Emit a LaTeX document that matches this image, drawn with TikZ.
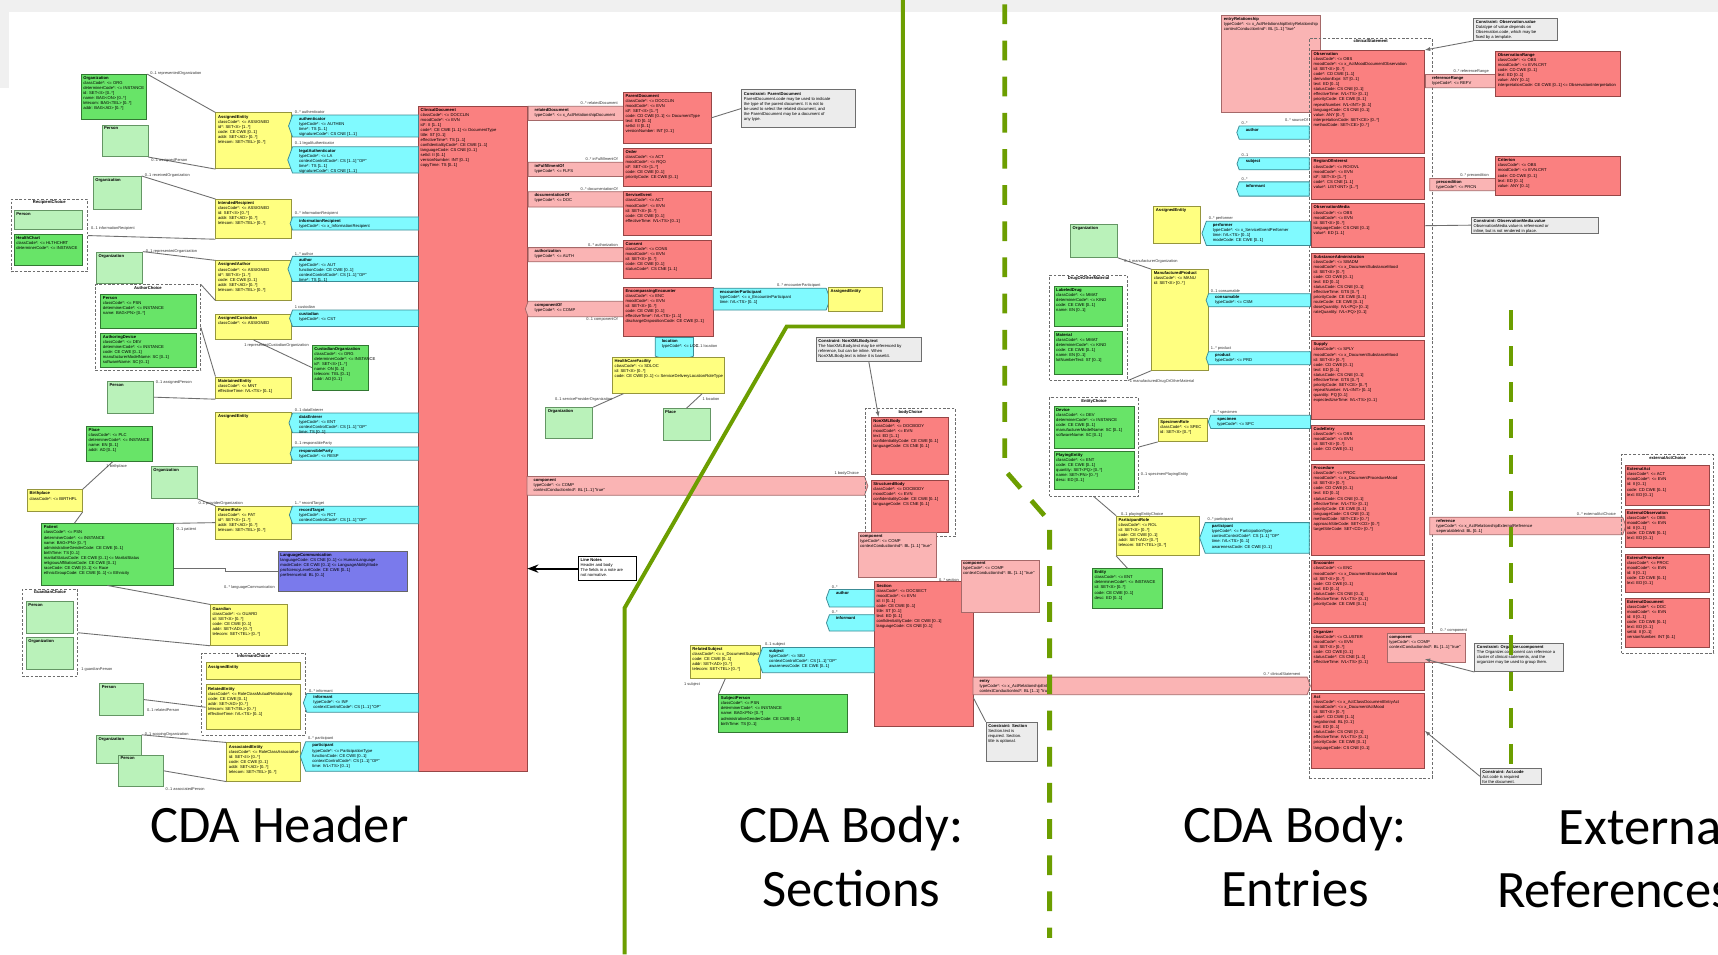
\documentclass[tikz,border=0pt]{standalone}
\usepackage{fontspec}
\setmainfont{Carlito}
\newfontfamily\umlfont{Liberation Sans}
\usetikzlibrary{positioning, fit, calc, shapes.symbols, arrows.meta}
\definecolor{cdagreen}{RGB}{108,158,0}
\definecolor{actred}{RGB}{250,128,128}
\definecolor{actredline}{RGB}{150,70,70}
\definecolor{actpink}{RGB}{250,180,180}
\definecolor{actpinkline}{RGB}{165,105,105}
\definecolor{roleyel}{RGB}{255,255,128}
\definecolor{roleyelline}{RGB}{150,150,60}
\definecolor{partcyan}{RGB}{128,250,255}
\definecolor{partcyanline}{RGB}{60,140,150}
\definecolor{entdark}{RGB}{104,228,104}
\definecolor{entdarkline}{RGB}{50,120,50}
\definecolor{entlight}{RGB}{186,242,186}
\definecolor{entlightline}{RGB}{100,150,100}
\definecolor{langblue}{RGB}{122,122,236}
\definecolor{notegray}{RGB}{236,236,236}
\definecolor{edgegray}{RGB}{110,110,110}
\definecolor{bggray}{RGB}{240,240,240}
\tikzset{
  cls/.style={rectangle, line width=0.35pt, inner sep=0pt},
  redcls/.style={cls, fill=actred, draw=actredline},
  pinkcls/.style={cls, fill=actpink, draw=actpinkline},
  yelcls/.style={cls, fill=roleyel, draw=roleyelline},
  dkgrn/.style={cls, fill=entdark, draw=entdarkline},
  ltgrn/.style={cls, fill=entlight, draw=entlightline},
  purpcls/.style={cls, fill=langblue, draw=black!60},
  notecls/.style={cls, fill=notegray, draw=edgegray},
  blacknote/.style={cls, fill=white, draw=black, line width=0.7pt},
  choicegrp/.style={rectangle, draw=edgegray, dash pattern=on 1.2pt off 0.8pt, line width=0.35pt, inner sep=0pt},
  sig/.style={signal, signal pointer angle=140, line width=0.35pt, inner sep=0pt},
  partw/.style={sig, signal to=west, fill=partcyan, draw=partcyanline},
  parte/.style={sig, signal to=east, fill=partcyan, draw=partcyanline},
  parts/.style={sig, signal to=south, fill=partcyan, draw=partcyanline},
  actr/.style={sig, signal to=east, fill=actpink, draw=actpinkline},
  actl/.style={sig, signal to=west, fill=actpink, draw=actpinkline},
  clstext/.style={anchor=north west, inner sep=0.8pt, align=left, font=\umlfont\fontsize{1.9}{2.3}\selectfont},
  grptitle/.style={anchor=north, inner sep=0.6pt, font=\umlfont\bfseries\fontsize{1.9}{2.2}\selectfont},
  linklab/.style={inner sep=0.4pt, font=\umlfont\fontsize{1.8}{2}\selectfont, text=black!80},
  assoc/.style={draw=edgegray, line width=0.4pt},
  cdaline/.style={draw=cdagreen, line width=1.8pt},
  cdadash/.style={draw=cdagreen, line width=2.2pt, dash pattern=on 9pt off 7.5pt},
  region/.style={anchor=base, inner sep=0pt, font=\fontsize{24}{29}\selectfont}
}
% class box: name, style, x0, y0, x1, y1, title, attributes
\newcommand\cdabox[8]{%
  \node[#2, fit={(#3,#4) (#5,#6)}] (#1) {};
  \node[clstext] (#1txt) at (#3,#4) {\textbf{#7}\\#8};
}
% participation / act relationship shape, text kept off the pointer
\newcommand\cdarel[8]{%
  \node[#2, fit={(#3,#4) (#5,#6)}] (#1) {};
  \node[clstext] (#1txt) at (#3+4,#4) {\textbf{#7}\\#8};
}
% choice box with dashed border
\newcommand\cdagroup[6]{%
  \node[choicegrp, fit={(#2,#3) (#4,#5)}] (#1) {};
  \node[grptitle] (#1txt) at (#1.north) {#6};
}
\newcommand\cdalab[5][south west]{\node[linklab, anchor=#1] (#2) at (#3,#4) {#5};}

\begin{document}
\begin{tikzpicture}[x=0.5pt, y=-0.5pt]
\useasboundingbox (0,0) rectangle (1568,871);
\fill[white] (0,0) rectangle (1568,871);
\fill[bggray] (0,0) rectangle (1568,11);
\fill[bggray] (0,11) rectangle (8,80);

% ---------------- CDA header ----------------
\cdabox{clindoc}{redcls}{382}{97}{481}{704}{ClinicalDocument}{classCode*: <= DOCCLIN\\moodCode*: <= EVN\\id*: II [1..1]\\code*: CE CWE [1..1] <= DocumentType\\title: ST [0..1]\\effectiveTime*: TS [1..1]\\confidentialityCode*: CE CWE [1..1]\\languageCode: CS CNE [0..1]\\setId: II [0..1]\\versionNumber: INT [0..1]\\copyTime: TS [0..1]}

\cdabox{hdrorg}{dkgrn}{74}{68}{134}{109}{Organization}{classCode*: <= ORG\\determinerCode*: <= INSTANCE\\id: SET<II> [0..*]\\name: BAG<ON> [0..*]\\telecom: BAG<TEL> [0..*]\\addr: BAG<AD> [0..*]}
\cdabox{hdrper}{ltgrn}{93}{114}{135}{143}{Person}{}
\cdabox{asgent}{yelcls}{197}{103}{266}{154}{AssignedEntity}{classCode*: <= ASSIGNED\\id*: SET<II> [1..*]\\code: CE CWE [0..1]\\addr: SET<AD> [0..*]\\telecom: SET<TEL> [0..*]}
\cdarel{authen}{partw}{267}{105}{382}{125}{authenticator}{typeCode*: <= AUTHEN\\time*: TS [1..1]\\signatureCode*: CS CNE [1..1]}
\cdarel{legauth}{partw}{267}{134}{382}{158}{legalAuthenticator}{typeCode*: <= LA\\contextControlCode*: CS [1..1] "OP"\\time*: TS [1..1]\\signatureCode*: CS CNE [1..1]}

\cdabox{rcporg}{ltgrn}{85}{161}{129}{191}{Organization}{}
\cdagroup{rcpchoice}{10}{182}{80}{248}{RecipientChoice}
\cdabox{rcpper}{ltgrn}{13}{192}{75}{209}{Person}{}
\cdabox{hlthchart}{dkgrn}{13}{214}{75}{242}{HealthChart}{classCode*: <= HLTHCHRT\\determinerCode*: <= INSTANCE}
\cdabox{intrcp}{yelcls}{197}{182}{266}{218}{IntendedRecipient}{classCode*: <= ASSIGNED\\id: SET<II> [0..*]\\addr: SET<AD> [0..*]\\telecom: SET<TEL> [0..*]}
\cdarel{infrcp}{partw}{267}{198}{382}{210}{informationRecipient}{typeCode*: <= x\_InformationRecipient}

\cdabox{autorg}{ltgrn}{88}{230}{130}{259}{Organization}{}
\cdabox{asgaut}{yelcls}{197}{238}{266}{274}{AssignedAuthor}{classCode*: <= ASSIGNED\\id*: SET<II> [1..*]\\code: CE CWE [0..1]\\addr: SET<AD> [0..*]\\telecom: SET<TEL> [0..*]}
\cdarel{author}{partw}{267}{234}{382}{257}{author}{typeCode*: <= AUT\\functionCode: CE CWE [0..1]\\contextControlCode*: CS [1..1] "OP"\\time*: TS [1..1]}
\cdagroup{autchoice}{87}{260}{183}{338}{AuthorChoice}
\cdabox{autper}{dkgrn}{92}{269}{179}{300}{Person}{classCode*: <= PSN\\determinerCode*: <= INSTANCE\\name: BAG<PN> [0..*]}
\cdabox{autdev}{dkgrn}{92}{304}{179}{335}{AuthoringDevice}{classCode*: <= DEV\\determinerCode*: <= INSTANCE\\code: CE CWE [0..1]\\manufacturerModelName: SC [0..1]\\softwareName: SC [0..1]}

\cdabox{asgcus}{yelcls}{197}{287}{266}{310}{AssignedCustodian}{classCode*: <= ASSIGNED}
\cdarel{custod}{partw}{267}{283}{382}{298}{custodian}{typeCode*: <= CST}
\cdabox{cusorg}{dkgrn}{285}{315}{336}{356}{CustodianOrganization}{classCode*: <= ORG\\determinerCode*: <= INSTANCE\\id*: SET<II> [1..*]\\name: ON [0..1]\\telecom: TEL [0..1]\\addr: AD [0..1]}
\cdabox{mntper}{ltgrn}{98}{348}{140}{377}{Person}{}
\cdabox{mntent}{yelcls}{197}{344}{266}{364}{MaintainedEntity}{classCode*: <= MNT\\effectiveTime: IVL<TS> [0..1]}
\cdabox{dataent}{yelcls}{197}{376}{266}{423}{AssignedEntity}{}
\cdarel{dataenterer}{partw}{267}{377}{382}{395}{dataEnterer}{typeCode*: <= ENT\\contextControlCode*: CS [1..1] "OP"\\time: TS [0..1]}
\cdarel{respparty}{partw}{267}{408}{382}{420}{responsibleParty}{typeCode*: <= RESP}

\cdabox{place}{dkgrn}{79}{389}{139}{421}{Place}{classCode*: <= PLC\\determinerCode*: <= INSTANCE\\name: EN [0..1]\\addr: AD [0..1]}
\cdabox{ptorg}{ltgrn}{138}{426}{180}{455}{Organization}{}
\cdabox{birthpl}{yelcls}{25}{447}{75}{467}{Birthplace}{classCode*: <= BIRTHPL}
\cdabox{patient}{dkgrn}{38}{478}{158}{534}{Patient}{classCode*: <= PSN\\determinerCode*: <= INSTANCE\\name: BAG<PN> [0..*]\\administrativeGenderCode: CE CWE [0..1]\\birthTime: TS [0..1]\\maritalStatusCode: CE CWE [0..1] <= MaritalStatus\\religiousAffiliationCode: CE CWE [0..1]\\raceCode: CE CWE [0..1] <= Race\\ethnicGroupCode: CE CWE [0..1] <= Ethnicity}
\cdabox{ptrole}{yelcls}{197}{462}{266}{492}{PatientRole}{classCode*: <= PAT\\id*: SET<II> [1..*]\\addr: SET<AD> [0..*]\\telecom: SET<TEL> [0..*]}
\cdarel{rectgt}{partw}{267}{462}{382}{478}{recordTarget}{typeCode*: <= RCT\\contextControlCode*: CS [1..1] "OP"}
\cdabox{langcom}{purpcls}{254}{503}{372}{540}{LanguageCommunication}{languageCode: CS CNE [0..1] <= HumanLanguage\\modeCode: CE CWE [0..1] <= LanguageAbilityMode\\proficiencyLevelCode: CE CWE [0..1]\\preferenceInd: BL [0..1]}
\cdagroup{grdchoice}{20}{538}{71}{617}{GuardianChoice}
\cdabox{grdper}{ltgrn}{24}{549}{67}{578}{Person}{}
\cdabox{grdorg}{ltgrn}{24}{582}{67}{611}{Organization}{}
\cdabox{guardian}{yelcls}{192}{552}{262}{589}{Guardian}{classCode*: <= GUARD\\id: SET<II> [0..*]\\code: CE CWE [0..1]\\addr: SET<AD> [0..*]\\telecom: SET<TEL> [0..*]}

\cdagroup{infchoice}{184}{596}{279}{671}{InformantChoice}
\cdabox{infent}{yelcls}{188}{605}{274}{620}{AssignedEntity}{}
\cdabox{relent}{yelcls}{188}{625}{274}{666}{RelatedEntity}{classCode*: <= RoleClassMutualRelationship\\code: CE CWE [0..1]\\addr: SET<AD> [0..*]\\telecom: SET<TEL> [0..*]\\effectiveTime: IVL<TS> [0..1]}
\cdabox{relper}{ltgrn}{91}{624}{131}{653}{Person}{}
\cdarel{informant}{partw}{280}{633}{382}{650}{informant}{typeCode*: <= INF\\contextControlCode*: CS [1..1] "OP"}
\cdabox{ascorg}{ltgrn}{88}{671}{129}{697}{Organization}{}
\cdabox{ascper}{ltgrn}{108}{689}{149}{718}{Person}{}
\cdabox{ascent}{yelcls}{207}{678}{274}{713}{AssociatedEntity}{classCode*: <= RoleClassAssociative\\id: SET<II> [0..*]\\code: CE CWE [0..1]\\addr: SET<AD> [0..*]\\telecom: SET<TEL> [0..*]}
\cdarel{particip}{partw}{279}{677}{382}{704}{participant}{typeCode*: <= ParticipationType\\functionCode: CE CWE [0..1]\\contextControlCode*: CS [1..1] "OP"\\time: IVL<TS> [0..1]}

% act relationships to the right of ClinicalDocument
\cdarel{reldoc}{actr}{482}{97}{569}{110}{relatedDocument}{typeCode*: <= x\_ActRelationshipDocument}
\cdabox{pardoc}{redcls}{569}{84}{649}{131}{ParentDocument}{classCode*: <= DOCCLIN\\moodCode*: <= EVN\\id*: SET<II> [1..*]\\code: CD CWE [0..1] <= DocumentType\\text: ED [0..1]\\setId: II [0..1]\\versionNumber: INT [0..1]}
\cdarel{inful}{actr}{482}{148}{569}{161}{inFulfillmentOf}{typeCode*: <= FLFS}
\cdabox{order}{redcls}{569}{135}{649}{170}{Order}{classCode*: <= ACT\\moodCode*: <= RQO\\id*: SET<II> [1..*]\\code: CE CWE [0..1]\\priorityCode: CE CWE [0..1]}
\cdarel{docof}{actr}{482}{175}{569}{189}{documentationOf}{typeCode*: <= DOC}
\cdabox{srvevt}{redcls}{569}{175}{649}{215}{ServiceEvent}{classCode*: <= ACT\\moodCode*: <= EVN\\id: SET<II> [0..*]\\code: CE CWE [0..1]\\effectiveTime: IVL<TS> [0..1]}
\cdarel{authzn}{actr}{482}{226}{569}{239}{authorization}{typeCode*: <= AUTH}
\cdabox{consent}{redcls}{569}{219}{649}{254}{Consent}{classCode*: <= CONS\\moodCode*: <= EVN\\id: SET<II> [0..*]\\code: CE CWE [0..1]\\statusCode*: CS CNE [1..1]}
\cdarel{compof}{actl}{482}{275}{569}{289}{componentOf}{typeCode*: <= COMP}
\cdabox{encenc}{redcls}{569}{262}{651}{307}{EncompassingEncounter}{classCode*: <= ENC\\moodCode*: <= EVN\\id: SET<II> [0..*]\\code: CE CWE [0..1]\\effectiveTime*: IVL<TS> [1..1]\\dischargeDispositionCode: CE CWE [0..1]}
\cdarel{encpart}{parte}{651}{263}{754}{283}{encounterParticipant}{typeCode*: <= x\_EncounterParticipant\\time: IVL<TS> [0..1]}
\cdabox{encasg}{yelcls}{756}{262}{805}{284}{AssignedEntity}{}
\cdarel{location}{parts}{598}{308}{633}{325}{location}{typeCode*: <= LOC}
\cdabox{hcf}{yelcls}{559}{326}{661}{359}{HealthCareFacility}{classCode*: <= SDLOC\\id: SET<II> [0..*]\\code: CE CWE [0..1] <= ServiceDeliveryLocationRoleType}
\cdabox{locorg}{ltgrn}{498}{372}{541}{400}{Organization}{}
\cdabox{locplace}{ltgrn}{605}{373}{648}{402}{Place}{}
\cdabox{pardocnote}{notecls}{677}{82}{781}{116}{Constraint: ParentDocument}{ParentDocument.code may be used to indicate\\the type of the parent document. It is not to\\be used to select the related document, and\\the ParentDocument may be a document of\\any type.}

% ---------------- CDA body: sections ----------------
\cdarel{bodycomp}{actr}{481}{435}{789}{452}{component}{typeCode*: <= COMP\\contextConductionInd*: BL [1..1] "true"}
\cdabox{linenote}{blacknote}{528}{508}{581}{530}{Line Notes}{Header and body\\The fields in a note are\\not normative.}
\cdabox{bodynote}{notecls}{745}{308}{841}{330}{Constraint: NonXMLBody.text}{The NonXMLBody.text may be referenced by\\reference, but can be inline. When\\NonXMLBody.text is inline it is base64.}
\cdagroup{bodychoice}{790}{373}{872}{490}{bodyChoice}
\cdabox{nonxml}{redcls}{795}{381}{866}{433}{NonXMLBody}{classCode*: <= DOCBODY\\moodCode*: <= EVN\\text: ED [1..1]\\confidentialityCode: CE CWE [0..1]\\languageCode: CS CNE [0..1]}
\cdabox{strbody}{redcls}{795}{438}{866}{486}{StructuredBody}{classCode*: <= DOCBODY\\moodCode*: <= EVN\\confidentialityCode: CE CWE [0..1]\\languageCode: CS CNE [0..1]}
\cdabox{seccomp}{pinkcls}{783}{486}{855}{527}{component}{typeCode*: <= COMP\\contextConductionInd*: BL [1..1] "true"}
\cdabox{section}{redcls}{798}{531}{888}{663}{Section}{classCode*: <= DOCSECT\\moodCode*: <= EVN\\id: II [0..1]\\code: CE CWE [0..1]\\title: ST [0..1]\\text: ED [0..1]\\confidentialityCode: CE CWE [0..1]\\languageCode: CS CNE [0..1]}
\cdabox{subcomp}{pinkcls}{877}{511}{949}{559}{component}{typeCode*: <= COMP\\contextConductionInd*: BL [1..1] "true"}
\cdarel{secauth}{partw}{757}{538}{798}{554}{author}{}
\cdarel{secinf}{partw}{757}{561}{798}{576}{informant}{}
\cdabox{relsub}{yelcls}{630}{589}{694}{619}{RelatedSubject}{classCode*: <= x\_DocumentSubject\\code: CE CWE [0..1]\\addr: SET<AD> [0..*]\\telecom: SET<TEL> [0..*]}
\cdarel{subject}{partw}{696}{591}{798}{614}{subject}{typeCode*: <= SBJ\\contextControlCode*: CS [1..1] "OP"\\awarenessCode: CE CWE [0..1]}
\cdabox{subper}{dkgrn}{656}{634}{773}{668}{SubjectPerson}{classCode*: <= PSN\\determinerCode*: <= INSTANCE\\name: BAG<PN> [0..*]\\administrativeGenderCode: CE CWE [0..1]\\birthTime: TS [0..1]}
\cdabox{secnote}{notecls}{900}{659}{947}{695}{Constraint: Section}{Section.text is\\required. Section.\\title is optional.}
\cdarel{entry}{actr}{888}{618}{1193}{634}{entry}{typeCode*: <= x\_ActRelationshipEntry\\contextConductionInd*: BL [1..1] "true"}

% ---------------- CDA body: entries ----------------
\cdabox{entrel}{pinkcls}{1115}{14}{1205}{103}{entryRelationship}{typeCode*: <= x\_ActRelationshipEntryRelationship\\contextConductionInd*: BL [1..1] "true"}
\cdagroup{clinstmt}{1195}{35}{1307}{710}{clinicalStatement}
\cdabox{obs}{redcls}{1197}{46}{1300}{140}{Observation}{classCode*: <= OBS\\moodCode*: <= x\_ActMoodDocumentObservation\\id: SET<II> [0..*]\\code*: CD CWE [1..1]\\derivationExpr: ST [0..1]\\text: ED [0..1]\\statusCode: CS CNE [0..1]\\effectiveTime: IVL<TS> [0..1]\\priorityCode: CE CWE [0..1]\\repeatNumber: IVL<INT> [0..1]\\languageCode: CS CNE [0..1]\\value: ANY [0..*]\\interpretationCode: SET<CE> [0..*]\\methodCode: SET<CE> [0..*]}
\cdabox{roi}{redcls}{1197}{144}{1300}{182}{RegionOfInterest}{classCode*: <= ROIOVL\\moodCode*: <= EVN\\id*: SET<II> [1..*]\\code*: CS CNE [1..1]\\value*: LIST<INT> [1..*]}
\cdabox{obsmed}{redcls}{1197}{186}{1300}{226}{ObservationMedia}{classCode*: <= OBS\\moodCode*: <= EVN\\id: SET<II> [0..*]\\languageCode: CS CNE [0..1]\\value*: ED [1..1]}
\cdabox{subadm}{redcls}{1197}{231}{1300}{307}{SubstanceAdministration}{classCode*: <= SBADM\\moodCode*: <= x\_DocumentSubstanceMood\\id: SET<II> [0..*]\\code: CD CWE [0..1]\\text: ED [0..1]\\statusCode: CS CNE [0..1]\\effectiveTime: GTS [0..*]\\priorityCode: CE CWE [0..1]\\routeCode: CE CWE [0..1]\\doseQuantity: IVL<PQ> [0..1]\\rateQuantity: IVL<PQ> [0..1]}
\cdabox{supply}{redcls}{1197}{311}{1300}{383}{Supply}{classCode*: <= SPLY\\moodCode*: <= x\_DocumentSubstanceMood\\id: SET<II> [0..*]\\code: CD CWE [0..1]\\text: ED [0..1]\\statusCode: CS CNE [0..1]\\effectiveTime: GTS [0..*]\\priorityCode: SET<CE> [0..*]\\repeatNumber: IVL<INT> [0..1]\\quantity: PQ [0..1]\\expectedUseTime: IVL<TS> [0..1]}
\cdabox{codeent}{redcls}{1197}{388}{1300}{420}{CodeEntry}{classCode*: <= OBS\\moodCode*: <= EVN\\id: SET<II> [0..*]\\code: CD CWE [0..1]}
\cdabox{proc}{redcls}{1197}{424}{1300}{507}{Procedure}{classCode*: <= PROC\\moodCode*: <= x\_DocumentProcedureMood\\id: SET<II> [0..*]\\code: CD CWE [0..1]\\text: ED [0..1]\\statusCode: CS CNE [0..1]\\effectiveTime: IVL<TS> [0..1]\\priorityCode: CE CWE [0..1]\\languageCode: CS CNE [0..1]\\methodCode: SET<CE> [0..*]\\approachSiteCode: SET<CD> [0..*]\\targetSiteCode: SET<CD> [0..*]}
\cdabox{encntr}{redcls}{1197}{511}{1300}{569}{Encounter}{classCode*: <= ENC\\moodCode*: <= x\_DocumentEncounterMood\\id: SET<II> [0..*]\\code: CD CWE [0..1]\\text: ED [0..1]\\statusCode: CS CNE [0..1]\\effectiveTime: IVL<TS> [0..1]\\priorityCode: CE CWE [0..1]}
\cdabox{organizer}{redcls}{1197}{573}{1300}{630}{Organizer}{classCode*: <= CLUSTER\\moodCode*: <= EVN\\id: SET<II> [0..*]\\code: CD CWE [0..1]\\statusCode*: CS CNE [1..1]\\effectiveTime: IVL<TS> [0..1]}
\cdabox{act}{redcls}{1197}{633}{1300}{701}{Act}{classCode*: <= x\_ActClassDocumentEntryAct\\moodCode*: <= x\_DocumentActMood\\id: SET<II> [0..*]\\code*: CD CWE [1..1]\\negationInd: BL [0..1]\\text: ED [0..1]\\statusCode: CS CNE [0..1]\\effectiveTime: IVL<TS> [0..1]\\priorityCode: CE CWE [0..1]\\languageCode: CS CNE [0..1]}
\cdabox{orgcomp}{pinkcls}{1266}{578}{1337}{605}{component}{typeCode*: <= COMP\\contextConductionInd*: BL [1..1] "true"}

\cdarel{refrange}{actr}{1301}{68}{1365}{80}{referenceRange}{typeCode*: <= REFV}
\cdabox{obsrange}{redcls}{1365}{47}{1479}{88}{ObservationRange}{classCode*: <= OBS\\moodCode*: <= EVN.CRT\\code: CD CWE [0..1]\\text: ED [0..1]\\value: ANY [0..1]\\interpretationCode: CE CWE [0..1] <= ObservationInterpretation}
\cdarel{precond}{actr}{1305}{163}{1365}{174}{precondition}{typeCode*: <= PRCN}
\cdabox{criterion}{redcls}{1365}{143}{1479}{178}{Criterion}{classCode*: <= OBS\\moodCode*: <= EVN.CRT\\code: CD CWE [0..1]\\text: ED [0..1]\\value: ANY [0..1]}
\cdabox{obsnote}{notecls}{1345}{17}{1421}{37}{Constraint: Observation.value}{Datatype of value depends on\\Observation.code, which may be\\fixed by a template.}
\cdabox{mednote}{notecls}{1343}{198}{1459}{213}{Constraint: ObservationMedia.value}{ObservationMedia.value is referenced or\\inline, but is not rendered in place.}

\cdarel{entauth}{partw}{1131}{115}{1195}{127}{author}{}
\cdarel{entsubj}{partw}{1131}{144}{1195}{155}{subject}{}
\cdarel{entinf}{partw}{1131}{166}{1195}{179}{informant}{}
\cdabox{perfasg}{yelcls}{1053}{188}{1096}{222}{AssignedEntity}{}
\cdarel{performer}{partw}{1101}{202}{1196}{224}{performer}{typeCode*: <= x\_ServiceEventPerformer\\time: IVL<TS> [0..1]\\modeCode: CE CWE [0..1]}
\cdabox{entorg}{ltgrn}{977}{205}{1020}{235}{Organization}{}
\cdabox{mfgprod}{yelcls}{1051}{246}{1103}{338}{ManufacturedProduct}{classCode*: <= MANU\\id: SET<II> [0..*]}
\cdagroup{drugchoice}{958}{251}{1029}{347}{DrugOrOtherMaterial}
\cdabox{labdrug}{dkgrn}{962}{261}{1024}{298}{LabeledDrug}{classCode*: <= MMAT\\determinerCode*: <= KIND\\code: CE CWE [0..1]\\name: EN [0..1]}
\cdabox{material}{dkgrn}{962}{302}{1024}{342}{Material}{classCode*: <= MMAT\\determinerCode*: <= KIND\\code: CE CWE [0..1]\\name: EN [0..1]\\lotNumberText: ST [0..1]}
\cdarel{consum}{partw}{1103}{268}{1196}{280}{consumable}{typeCode*: <= CSM}
\cdarel{product}{partw}{1103}{321}{1196}{333}{product}{typeCode*: <= PRD}
\cdagroup{entchoice}{958}{363}{1039}{453}{EntityChoice}
\cdabox{device}{dkgrn}{962}{371}{1035}{409}{Device}{classCode*: <= DEV\\determinerCode*: <= INSTANCE\\code: CE CWE [0..1]\\manufacturerModelName: SC [0..1]\\softwareName: SC [0..1]}
\cdabox{playent}{dkgrn}{962}{412}{1035}{447}{PlayingEntity}{classCode*: <= ENT\\code: CE CWE [0..1]\\quantity: SET<PQ> [0..*]\\name: SET<PN> [0..*]\\desc: ED [0..1]}
\cdabox{specrole}{yelcls}{1057}{382}{1102}{403}{SpecimenRole}{classCode*: <= SPEC\\id: SET<II> [0..*]}
\cdarel{specimen}{partw}{1105}{379}{1196}{391}{specimen}{typeCode*: <= SPC}
\cdabox{partrole}{yelcls}{1019}{471}{1095}{507}{ParticipantRole}{classCode*: <= ROL\\id: SET<II> [0..*]\\code: CE CWE [0..1]\\addr: SET<AD> [0..*]\\telecom: SET<TEL> [0..*]}
\cdarel{entpart}{partw}{1100}{477}{1195}{505}{participant}{typeCode*: <= ParticipationType\\contextControlCode*: CS [1..1] "OP"\\time: IVL<TS> [0..1]\\awarenessCode: CE CWE [0..1]}
\cdabox{entity}{dkgrn}{997}{519}{1061}{555}{Entity}{classCode*: <= ENT\\determinerCode*: <= INSTANCE\\id: SET<II> [0..*]\\code: CE CWE [0..1]\\desc: ED [0..1]}
\cdabox{orgnote}{notecls}{1346}{587}{1427}{613}{Constraint: Organizer.component}{The Organizer.component can reference a\\cluster of clinical statements, and the\\organizer may be used to group them.}
\cdabox{actnote}{notecls}{1351}{701}{1407}{716}{Constraint: Act.code}{Act.code is required\\for the document.}

% ---------------- external references ----------------
\cdarel{reference}{actr}{1305}{472}{1481}{488}{reference}{typeCode*: <= x\_ActRelationshipExternalReference\\seperatableInd: BL [0..1]}
\cdagroup{extchoice}{1480}{415}{1564}{596}{externalActChoice}
\cdabox{extact}{redcls}{1483}{425}{1560}{461}{ExternalAct}{classCode*: <= ACT\\moodCode*: <= EVN\\id: II [0..1]\\code: CD CWE [0..1]\\text: ED [0..1]}
\cdabox{extobs}{redcls}{1483}{465}{1560}{500}{ExternalObservation}{classCode*: <= OBS\\moodCode*: <= EVN\\id: II [0..1]\\code: CD CWE [0..1]\\text: ED [0..1]}
\cdabox{extproc}{redcls}{1483}{506}{1560}{541}{ExternalProcedure}{classCode*: <= PROC\\moodCode*: <= EVN\\id: II [0..1]\\code: CD CWE [0..1]\\text: ED [0..1]}
\cdabox{extdoc}{redcls}{1483}{546}{1560}{591}{ExternalDocument}{classCode*: <= DOC\\moodCode*: <= EVN\\id: II [0..1]\\code: CD CWE [0..1]\\text: ED [0..1]\\setId: II [0..1]\\versionNumber: INT [0..1]}

% ---------------- associations ----------------
\draw[assoc] (hdrorg.north east) -- (asgent.north west);
\draw[assoc] (hdrper.south east) -- (asgent.south west);
\draw[assoc] (rcporg.north east) -- (intrcp.north west);
\draw[assoc] (rcpchoice.east) -- (intrcp.south west);
\draw[assoc] (autorg.north east) -- (asgaut.north west);
\draw[assoc] (autchoice.north east) -- (asgaut.south west);
\draw[assoc] (asgcus.south) -- (cusorg.west);
\draw[assoc] (autchoice.east) -- (mntent.north west);
\draw[assoc] (mntper.east) -- (mntent.south west);
\draw[assoc] ($(place.south west)!0.4!(place.south east)$) -- (birthpl.north east);
\draw[assoc] (birthpl.south east) -- ($(patient.north west)!0.5!(patient.north)$);
\draw[assoc] (ptorg.south east) -- (ptrole.north west);
\draw[assoc] (patient.north east) -- (ptrole.west);
\draw[assoc] ($(patient.east)+(0,13)$) -- ++(47,0) |- (langcom.west);
\draw[assoc] (patient.south) -- (guardian.north west);
\draw[assoc] (grdchoice.east) -- (guardian.south west);
\draw[assoc] (relper.east) -- (relent.west);
\draw[assoc] (ascorg.north east) -- (ascent.north west);
\draw[assoc] (ascper.east) -- (ascent.south west);
\draw[assoc] (pardoc.east) -- (pardocnote.west);
\draw[assoc] ($(hcf.south west)!0.1!(hcf.south east)$) -- (locorg.north east);
\draw[assoc] ($(hcf.south west)!0.8!(hcf.south east)$) -- (locplace.north);
\draw[assoc, -{Latex[length=2.5pt]}] (bodynote.south) -- ($(nonxml.north west)!0.1!(nonxml.north east)$);
\draw[line width=0.9pt, -{Stealth[length=5pt]}] (linenote.west) -- (linenote.west -| clindoc.east);
\draw[assoc] (relsub.south) -- (subper.north west);
\draw[assoc] ($(section.north east)!0.8!(section.south east)$) -- (secnote.north west);
\draw[assoc, -{Latex[length=2.5pt]}] (obsnote.south west) -- (obs.north east);
\draw[assoc] (mednote.west) -- (obsmed.east);
\draw[assoc, -{Latex[length=2.5pt]}] (orgnote.south west) -- (organizer.east);
\draw[assoc, -{Latex[length=2.5pt]}] (actnote.west) -- (act.east);
\draw[assoc] (entorg.south east) -- (mfgprod.north west);
\draw[assoc] (drugchoice.south east) -- (mfgprod.south west);
\draw[assoc] (entchoice.east) -- (specrole.south west);
\draw[assoc] (entchoice.south) -- (partrole.north west);
\draw[assoc] (partrole.south west) -- (entity.north);

% link labels
\cdalab{lbl1}{136}{70}{0..1 representedOrganization}
\cdalab[north west]{lbl2}{137}{144}{0..1 assignedPerson}
\cdalab{lbl3}{131}{163}{0..1 receivedOrganization}
\cdalab[north west]{lbl4}{82}{206}{0..1 informationRecipient}
\cdalab{lbl5}{132}{232}{0..1 representedOrganization}
\cdalab[north east]{lbl6}{283}{312}{1 representedCustodianOrganization}
\cdalab{lbl7}{141}{352}{0..1 assignedPerson}
\cdalab[north west]{lbl8}{96}{423}{1 birthplace}
\cdalab[north west]{lbl9}{180}{457}{0..1 providerOrganization}
\cdalab[north west]{lbl10}{160}{480}{0..1 patient}
\cdalab[north east]{lbl11}{252}{533}{0..* languageCommunication}
\cdalab[north west]{lbl12}{73}{608}{1 guardianPerson}
\cdalab{lbl13}{133}{651}{0..1 relatedPerson}
\cdalab{lbl14}{131}{673}{0..1 scopingOrganization}
\cdalab[north west]{lbl15}{150}{718}{0..1 associatedPerson}
\cdalab{lbl16}{268}{105}{0..* authenticator}
\cdalab{lbl17}{268}{134}{0..1 legalAuthenticator}
\cdalab{lbl18}{268}{198}{0..* informationRecipient}
\cdalab{lbl19}{268}{234}{1..* author}
\cdalab{lbl20}{268}{283}{1 custodian}
\cdalab{lbl21}{268}{377}{0..1 dataEnterer}
\cdalab{lbl22}{268}{408}{0..1 responsibleParty}
\cdalab{lbl23}{268}{462}{1..* recordTarget}
\cdalab{lbl24}{281}{633}{0..* informant}
\cdalab{lbl25}{280}{677}{0..* participant}
\cdalab[south east]{lbl26}{565}{97}{0..* relatedDocument}
\cdalab[south east]{lbl27}{565}{148}{0..* inFulfillmentOf}
\cdalab[south east]{lbl28}{565}{175}{0..* documentationOf}
\cdalab[south east]{lbl29}{565}{226}{0..* authorization}
\cdalab[north east]{lbl30}{565}{289}{0..1 componentOf}
\cdalab[south east]{lbl31}{750}{263}{0..* encounterParticipant}
\cdalab[west]{lbl32}{634}{316}{0..1 location}
\cdalab[north east]{lbl33}{560}{362}{0..1 serviceProviderOrganization}
\cdalab[north west]{lbl34}{640}{362}{1 location}
\cdalab[south east]{lbl35}{785}{435}{1 bodyChoice}
\cdalab[north west]{lbl36}{856}{527}{0..* section}
\cdalab{lbl37}{758}{538}{0..*}
\cdalab{lbl38}{758}{561}{0..*}
\cdalab{lbl39}{697}{591}{0..1 subject}
\cdalab[north east]{lbl40}{640}{622}{1 subject}
\cdalab[south east]{lbl41}{1188}{618}{0..* clinicalStatement}
\cdalab[south east]{lbl42}{1195}{112}{0..* sourceOf}
\cdalab{lbl43}{1132}{115}{0..*}
\cdalab{lbl44}{1132}{144}{0..1}
\cdalab{lbl45}{1132}{166}{0..*}
\cdalab{lbl46}{1102}{202}{0..* performer}
\cdalab{lbl47}{1104}{268}{0..1 consumable}
\cdalab{lbl48}{1104}{321}{1..* product}
\cdalab{lbl49}{1106}{379}{0..* specimen}
\cdalab{lbl50}{1101}{477}{0..* participant}
\cdalab[south east]{lbl51}{1360}{68}{0..* referenceRange}
\cdalab[south east]{lbl52}{1360}{163}{0..* precondition}
\cdalab[south east]{lbl53}{1476}{472}{0..* externalActChoice}
\cdalab[north west]{lbl54}{1025}{236}{0..1 manufacturerOrganization}
\cdalab[north west]{lbl55}{1030}{345}{1 manufacturedDrugOrOtherMaterial}
\cdalab[north west]{lbl56}{1040}{430}{0..1 specimenPlayingEntity}
\cdalab[south west]{lbl57}{1022}{472}{0..1 playingEntityChoice}
\cdalab[south east]{lbl58}{1340}{578}{0..* component}

% ---------------- region boundaries ----------------
\draw[cdaline] (824,0) -- (824,298) -- (718,298) -- (570,555) -- (570,871);
\draw[cdadash] (917,4) -- (917,429) -- (958,476) -- (958,856);
\draw[cdadash] (1379,283) -- (1379,710);

% ---------------- region captions ----------------
\node[region] (hdrcap) at (255,769) {CDA Header};
\node[region] (seccapa) at (777,769) {CDA Body:};
\node[region] (seccapb) at (777,827) {Sections};
\node[region] (entcapa) at (1182,769) {CDA Body:};
\node[region] (entcapb) at (1182,827) {Entries};
\node[region, anchor=base west] (extcapa) at (1422,771) {External};
\node[region, anchor=base west] (extcapb) at (1366,828) {References};
\end{tikzpicture}
\end{document}
